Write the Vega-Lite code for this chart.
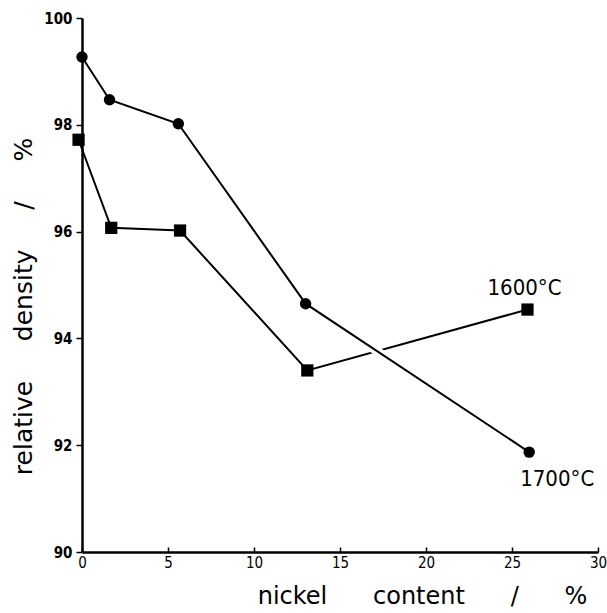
{
  "$schema": "https://vega.github.io/schema/vega-lite/v6.json",
  "width": 516,
  "height": 534,
  "autosize": {"type": "none"},
  "padding": {"left": 82, "top": 18, "right": 9, "bottom": 61},
  "background": "white",
  "config": {
    "view": {"stroke": null},
    "axis": {"grid": false, "domainColor": "black", "tickColor": "black", "labelColor": "black", "titleColor": "black", "domainWidth": 2.5, "tickWidth": 1.5}
  },
  "data": {
    "values": [
      {"nickel": 0, "density": 99.27, "series": "1700"},
      {"nickel": 1.6, "density": 98.47, "series": "1700"},
      {"nickel": 5.6, "density": 98.02, "series": "1700"},
      {"nickel": 13.0, "density": 94.65, "series": "1700"},
      {"nickel": 26.0, "density": 91.87, "series": "1700", "label": "1700°C"},
      {"nickel": -0.2, "density": 97.72, "series": "1600"},
      {"nickel": 1.7, "density": 96.07, "series": "1600"},
      {"nickel": 5.7, "density": 96.02, "series": "1600"},
      {"nickel": 13.1, "density": 93.4, "series": "1600"},
      {"nickel": 25.9, "density": 94.54, "series": "1600", "label": "1600°C"}
    ]
  },
  "encoding": {
    "x": {
      "field": "nickel", "type": "quantitative",
      "scale": {"domain": [0, 30], "nice": false, "zero": false, "clamp": false},
      "axis": {
        "values": [0, 5, 10, 15, 20, 25, 30],
        "title": "nickel\u00a0\u00a0\u00a0\u00a0\u00a0\u00a0content\u00a0\u00a0\u00a0\u00a0\u00a0\u00a0/\u00a0\u00a0\u00a0\u00a0\u00a0\u00a0%",
        "titleFont": "DejaVu Sans", "titleFontSize": 24, "titleFontWeight": "normal",
        "titleX": 340, "titleY": 44, "titleBaseline": "middle", "titleAlign": "center", "titleAnchor": null,
        "labelFont": "DejaVu Sans Condensed", "labelFontSize": 15, "labelPadding": 8,
        "tickSize": -5, "labelFlush": false
      }
    },
    "y": {
      "field": "density", "type": "quantitative",
      "scale": {"domain": [90, 100], "nice": false, "zero": false},
      "axis": {
        "values": [90, 92, 94, 96, 98, 100],
        "title": "relative\u00a0\u00a0\u00a0\u00a0\u00a0density\u00a0\u00a0\u00a0\u00a0\u00a0/\u00a0\u00a0\u00a0\u00a0\u00a0%",
        "titleFont": "DejaVu Sans", "titleFontSize": 25, "titleFontWeight": "normal",
        "titleX": -59, "titleY": 288, "titleBaseline": "middle", "titleAlign": "center", "titleAngle": -90,
        "labelFont": "DejaVu Sans Condensed", "labelFontSize": 15, "labelFontWeight": "bold", "labelPadding": 4,
        "tickSize": 6, "labelFlush": false
      }
    }
  },
  "layer": [
    {
      "transform": [{"filter": "datum.series == '1600'"}],
      "mark": {"type": "line", "color": "black", "strokeWidth": 2},
      "encoding": {"order": {"field": "nickel", "type": "quantitative"}}
    },
    {
      "transform": [{"filter": "datum.series == '1700' && datum.nickel > 10"}],
      "mark": {"type": "line", "color": "white", "strokeWidth": 9},
      "encoding": {"order": {"field": "nickel", "type": "quantitative"}}
    },
    {
      "transform": [{"filter": "datum.series == '1700'"}],
      "mark": {"type": "line", "color": "black", "strokeWidth": 2},
      "encoding": {"order": {"field": "nickel", "type": "quantitative"}}
    },
    {
      "transform": [{"filter": "datum.series == '1700'"}],
      "mark": {"type": "point", "shape": "circle", "filled": true, "color": "black", "size": 130, "opacity": 1}
    },
    {
      "transform": [{"filter": "datum.series == '1600'"}],
      "mark": {"type": "point", "shape": "square", "filled": true, "color": "black", "size": 150, "opacity": 1}
    },
    {
      "transform": [{"filter": "datum.series == '1600' && datum.label != null"}],
      "mark": {"type": "text", "font": "DejaVu Sans Condensed", "fontSize": 22, "color": "black", "dx": -3, "dy": -22, "align": "center", "baseline": "middle"},
      "encoding": {"text": {"field": "label"}}
    },
    {
      "transform": [{"filter": "datum.series == '1700' && datum.label != null"}],
      "mark": {"type": "text", "font": "DejaVu Sans Condensed", "fontSize": 22, "color": "black", "dx": 28, "dy": 27, "align": "center", "baseline": "middle"},
      "encoding": {"text": {"field": "label"}}
    }
  ]
}
